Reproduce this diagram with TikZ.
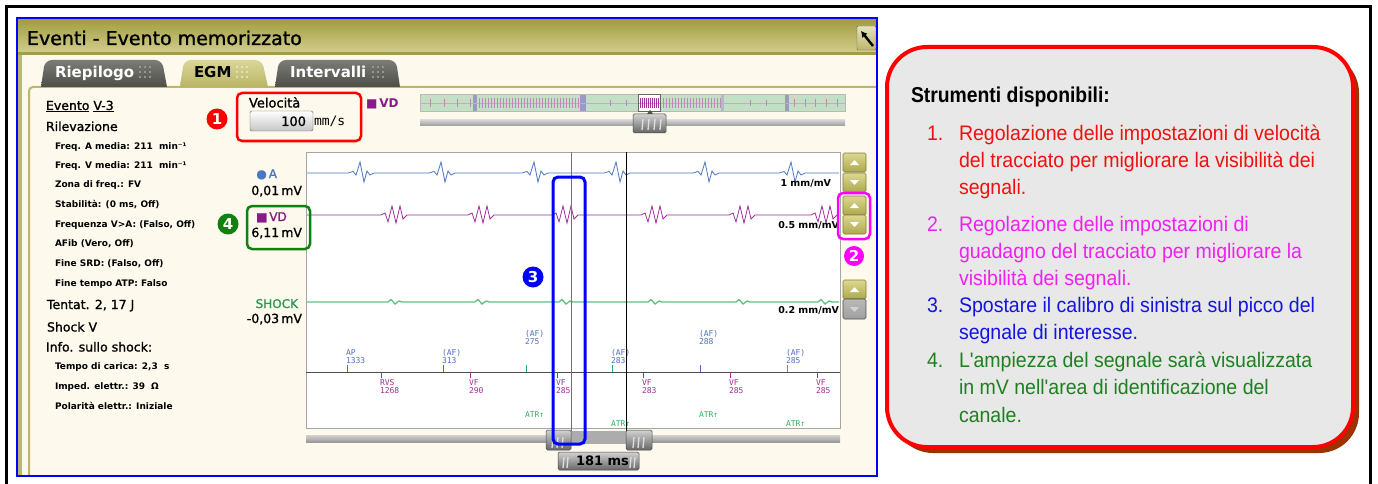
\documentclass[tikz,border=0pt]{standalone}
\usepackage{fontspec}
\setmainfont{DejaVu Sans}
\newfontfamily\ui{DejaVu Sans}
\newfontfamily\uimed[FakeBold=1.2]{DejaVu Sans}
\newfontfamily\uimono{DejaVu Sans Mono}
\newfontfamily\boxf[FakeStretch=0.93,Ligatures=ResetAll]{Liberation Sans}
\newfontfamily\headf[FakeStretch=0.9]{Liberation Sans}
\usetikzlibrary{arrows.meta}
\definecolor{cream}{HTML}{FDF9EC}
\definecolor{olive}{HTML}{BDB769}
\definecolor{olivedark}{HTML}{A39E42}
\definecolor{olivelight}{HTML}{D2CE8E}
\definecolor{tabdark}{HTML}{4E4E48}
\definecolor{tabtop}{HTML}{7C7C76}
\definecolor{egmtop}{HTML}{DAD69A}
\definecolor{egmbot}{HTML}{B9B563}
\definecolor{atr}{HTML}{4A78C0}
\definecolor{vdc}{HTML}{A0309A}
\definecolor{vdtext}{HTML}{8A1A8A}
\definecolor{shk}{HTML}{60C080}
\definecolor{annb}{HTML}{5070C0}
\definecolor{annp}{HTML}{A03090}
\definecolor{anng}{HTML}{30B060}
\definecolor{redc}{HTML}{FF0000}
\definecolor{magc}{HTML}{FF00FF}
\definecolor{bluec}{HTML}{0000FF}
\definecolor{greenc}{HTML}{108010}
\definecolor{itemred}{HTML}{F01010}
\definecolor{itemmag}{HTML}{F020F0}
\definecolor{itemblue}{HTML}{1414E0}
\definecolor{itemgreen}{HTML}{1E8020}
\definecolor{btntop}{HTML}{DCD890}
\definecolor{btnbot}{HTML}{ADA94E}
\definecolor{btnb}{HTML}{7E7A40}
\definecolor{shadowc}{HTML}{993300}
\definecolor{boxfill}{HTML}{E8E8E8}
\definecolor{ovgreen}{HTML}{C4E0C4}
\definecolor{ovbar}{HTML}{9A9AC4}
\tikzset{
  lbl/.style={anchor=base west, inner sep=0pt, outer sep=0pt},
  lblr/.style={anchor=base east, inner sep=0pt, outer sep=0pt},
  lblbig/.style={lbl, font=\uimed\fontsize{12.5}{15}\selectfont},
  lblsmall/.style={lbl, font=\ui\bfseries\fontsize{9}{11}\selectfont},
  chlbl/.style={lblr, font=\uimed\fontsize{12.5}{14}\selectfont},
  scalelbl/.style={lblr, font=\ui\bfseries\fontsize{9.5}{11}\selectfont},
  annlbl/.style={lbl, font=\uimono\fontsize{8}{9}\selectfont},
  numcirc/.style={circle, fill=#1, text=white, font=\ui\bfseries\fontsize{15}{15}\selectfont, inner sep=0pt, minimum size=21pt},
  hlbox/.style={draw=#1, line width=2.5pt, rounded corners=5pt},
  ubtn/.style={top color=btntop, bottom color=btnbot, draw=btnb, line width=0.6pt, rounded corners=1.5pt},
  thumbst/.style={top color=gray!35, bottom color=gray!80!black, draw=gray!55!black, line width=0.5pt, rounded corners=1.5pt},
  ridge/.style={white!75!gray, line width=1.3pt},
  boxline/.style={lbl, font=\boxf\fontsize{21}{27}\selectfont},
}
\begin{document}
\begin{tikzpicture}[x=1pt,y=-1pt]
\useasboundingbox (0,0) rectangle (1378,484);
\fill[white] (0,0) rectangle (1378,484);
% outer frame
\draw[line width=3pt] (6.5,6.5) rectangle (1370,520);
% window
\fill[cream] (17,18) rectangle (877,476);
\shade[top color=olivedark, bottom color=olivelight] (18,20) rectangle (876,53);
\fill[olivedark] (18,52) rectangle (876,55);
\fill[olive] (18,55) rectangle (22,476);
\draw[olive, line width=2pt, rounded corners=4pt] (29,476) -- (29,87) -- (876,87);
% close button
\shadedraw[top color=olivelight!60!white, bottom color=olive, draw=gray!70!black, rounded corners=1pt] (857,26) rectangle (876,50);
\draw[line width=2.4pt, -{Latex[length=6pt,width=7pt]}] (873,46) -- (861,31);
\draw[bluec, line width=2pt] (17,18) rectangle (877,476);
\node[lbl, font=\uimed\fontsize{19}{21}\selectfont] (title) at (27,45) {Eventi - Evento memorizzato};
% tabs
\shade[top color=tabtop, bottom color=tabdark] (41,87) [rounded corners=7pt] -- (45,60) -- (162,60) [sharp corners] -- (167,87) -- cycle;
\shade[top color=egmtop, bottom color=egmbot] (180,87) [rounded corners=7pt] -- (184,60) -- (262,60) [sharp corners] -- (268,87) -- cycle;
\shade[top color=tabtop, bottom color=tabdark] (275,87) [rounded corners=7pt] -- (279,60) -- (396,60) [sharp corners] -- (400,87) -- cycle;
\node[lbl, font=\ui\bfseries\fontsize{15}{17}\selectfont, text=white] (tab1) at (55,78) {Riepilogo};
\node[lbl, font=\ui\bfseries\fontsize{15}{17}\selectfont] (tab2) at (194,78) {EGM};
\node[lbl, font=\ui\bfseries\fontsize{15}{17}\selectfont, text=white] (tab3) at (290,78) {Intervalli};
\foreach \gx/\gc in {140/gray!70, 237/white!70!olive, 373/gray!70}
  \foreach \i in {0,1,2} \foreach \j in {0,1,2}
    \fill[\gc] (\gx+\i*5,67+\j*5) circle (1.1pt);
% left column
\node[lblbig] (ev) at (46,110) {\underline{Evento} \underline{V-3}};
\node[lblbig] (ril) at (46,131) {Rilevazione};
\node[lblsmall] (fa) at (55,149.5) {Freq. A media: 211\hspace{3pt} min⁻¹};
\node[lblsmall] (fv) at (55,168) {Freq. V media: 211\hspace{3pt} min⁻¹};
\node[lblsmall] (zona) at (55,187.5) {Zona di freq.: FV};
\node[lblsmall] (stab) at (55,207) {Stabilità: (0 ms, Off)};
\node[lblsmall] (fva) at (55,227) {Frequenza V>A: (Falso, Off)};
\node[lblsmall] (afib) at (55,246.5) {AFib (Vero, Off)};
\node[lblsmall] (srd) at (55,266.5) {Fine SRD: (Falso, Off)};
\node[lblsmall] (atp) at (55,286.5) {Fine tempo ATP: Falso};
\node[lblbig] (tent) at (47,309) {Tentat. 2, 17 J};
\node[lblbig] (shv) at (47,331.5) {Shock V};
\node[lblbig] (info) at (46,351.5) {Info. sullo shock:};
\node[lblsmall] (tc) at (55,369) {Tempo di carica: 2,3\hspace{3pt} s};
\node[lblsmall] (imp) at (55,389) {Imped. elettr.: 39\hspace{3pt} Ω};
\node[lblsmall] (pol) at (55,409) {Polarità elettr.: Iniziale};
% velocity control
\node[lbl, font=\uimed\fontsize{13}{15}\selectfont] (vel) at (249,107.5) {Velocità};
\shadedraw[top color=white, bottom color=gray!45, draw=gray!70!black, rounded corners=2pt] (250,111) rectangle (313,131);
\node[lblr, font=\uimed\fontsize{13}{15}\selectfont] (v100) at (306,126) {100};
\node[lbl, font=\uimono\fontsize{13}{15}\selectfont] (mms) at (314,126) {mm/s};
\draw[hlbox=redc] (237,93) rectangle (361,141);
\node[numcirc=redc] (c1) at (217,119) {1};
\node[lbl, font=\ui\bfseries\fontsize{12}{14}\selectfont, text=vdtext] (ovVD) at (366,108) {■\,VD};
% overview strip
\fill[ovgreen] (420,94) rectangle (845,111);
\fill[ovbar] (473,94) rectangle (477,111);
\fill[ovbar] (580,94) rectangle (586,111);
\fill[ovbar!50!ovgreen] (721,94) rectangle (724,111);
\fill[ovbar] (785,94) rectangle (789,111);
\fill[white] (638,94) rectangle (660,111);
\draw[vdc!45] (420,103) -- (845,103);
\foreach \x in {430,444,457,470} \draw[vdc!60] (\x,99) -- (\x,107);
\foreach \x in {479,482,...,578} \draw[vdc!60] (\x,98) -- (\x,108);
\foreach \x in {610,626} \draw[vdc!60] (\x,100) -- (\x,106);
\foreach \x in {640,642,...,658} \draw[vdc, line width=0.8pt] (\x,98) -- (\x,108);
\foreach \x in {663,666,...,720} \draw[vdc!60] (\x,98) -- (\x,108);
\foreach \x in {750,766} \draw[vdc!60] (\x,100) -- (\x,106);
\foreach \x in {794,805,815,826,837} \draw[vdc!60] (\x,99) -- (\x,107);
\draw[gray!55] (420,94) rectangle (845,111);
\draw[black!60] (638,94) rectangle (660,111);
\shade[top color=gray!35, bottom color=gray!80] (420,120) rectangle (845,126);
\shadedraw[thumbst] (633,114) rectangle (666,133);
\fill[gray!60!black] (647,114) -- (653,114) -- (650,110) -- cycle;
\foreach \x in {643,649,655,661} \draw[ridge] (\x,119) -- (\x-1,130);
% chart
\draw[gray!70, fill=white] (306,152) rectangle (840,428);
\draw[atr, line width=0.8pt] (307,173) foreach \x in {362,443,536,618,707,793} { -- (\x-14,173) -- (\x-9,171.5) -- (\x-6,175) -- (\x-2,162) -- (\x+2,182) -- (\x+5,171) -- (\x+8,175) -- (\x+12,173) } -- (839,173);
\draw[vdc, line width=0.8pt] (307,215) foreach \x in {395,482,566,655,743,825} { -- (\x-14,215) -- (\x-10,213) -- (\x-7,222) -- (\x-3,206) -- (\x+1,223) -- (\x+5,206) -- (\x+8,219) -- (\x+12,215) } -- (839,215);
\draw[shk, line width=1.3pt] (307,302) foreach \x in {395,482,566,655,743,825} { -- (\x-7,302) -- (\x-4,299.5) -- (\x,304) -- (\x+4,301) -- (\x+7,302) } -- (839,302);
\draw[black!70] (306,372) -- (840,372);
% calipers
\draw[black!55, line width=0.9pt] (571,152) -- (571,432);
\draw[black, line width=0.8pt] (626,152) -- (626,432);
% channel labels
\node[lblr, font=\uimed\fontsize{12}{14}\selectfont, text=atr] (chA) at (277,178) {●\,A};
\node[chlbl] (mvA) at (302,195) {0,01\,mV};
\node[lbl, font=\uimed\fontsize{12}{14}\selectfont, text=vdtext] (chVD) at (256,221) {■\,VD};
\node[chlbl] (mvVD) at (302,237) {6,11\,mV};
\node[lblr, font=\uimed\fontsize{12}{14}\selectfont, text=anng!85!black] (chS) at (298,308) {SHOCK};
\node[chlbl] (mvS) at (302,323) {-0,03\,mV};
\draw[hlbox=greenc] (247,206) rectangle (310,249);
\node[numcirc=greenc] (c4) at (228,224) {4};
% scale labels
\node[scalelbl] (s1) at (831,186) {1 mm/mV};
\node[scalelbl] (s2) at (839,228) {0.5 mm/mV};
\node[scalelbl] (s3) at (839,313) {0.2 mm/mV};
% gain buttons
\foreach \y/\d in {153/1, 173/-1, 196/1, 215/-1, 280/1} {
  \shadedraw[ubtn] (843,\y) rectangle (866,\y+19);
  \fill[white] (850,\y+9.5+2.5*\d) -- (859,\y+9.5+2.5*\d) -- (854.5,\y+9.5-2.5*\d) -- cycle;
}
\shadedraw[top color=gray!55, bottom color=gray!75, draw=gray!60!black, line width=0.6pt, rounded corners=1.5pt] (843,299) rectangle (866,319);
\fill[gray!35] (850,307) -- (859,307) -- (854.5,312) -- cycle;
\draw[hlbox=magc] (838,193) rectangle (870,239);
\node[numcirc=magc, minimum size=20pt] (c2) at (854,256) {2};
% annotations above axis
\foreach \x/\a/\b/\yy/\tc in {346/AP/1333/355/annb, 442/(AF)/313/355/annb, 525/(AF)/275/336/anng, 611/(AF)/283/355/anng, 699/(AF)/288/336/annb, 786/(AF)/285/355/anng} {
  \node[annlbl, text=annb] (ua\x) at (\x,\yy) {\a};
  \node[annlbl, text=annb] (ub\x) at (\x,\yy+8) {\b};
  \draw[\tc, line width=0.8pt] (\x+1,365) -- (\x+1,372);
}
% annotations below axis
\foreach \x/\a/\b in {380/RVS/1268, 469/VF/290, 556/VF/285, 642/VF/283, 729/VF/285, 816/VF/285} {
  \draw[annp, line width=0.8pt] (\x+1,372) -- (\x+1,378);
  \node[annlbl, text=annp] (la\x) at (\x,385) {\a};
  \node[annlbl, text=annp] (lb\x) at (\x,393) {\b};
}
\foreach \x/\yy in {525/417, 611/426, 699/417, 786/426}
  \node[annlbl, text=anng] (atr\x) at (\x,\yy) {ATR↑};
% bottom slider
\shade[top color=gray!35, bottom color=gray!80] (306,435) rectangle (840,442);
\fill[gray!65] (571,431) rectangle (626,444);
\shadedraw[thumbst] (546,430) rectangle (571,450);
\foreach \x in {553,558,563} \draw[ridge] (\x,437) -- (\x-1,448);
\shadedraw[thumbst] (626,430) rectangle (652,450);
\foreach \x in {634,639,644} \draw[ridge] (\x,437) -- (\x-1,448);
\shadedraw[thumbst] (558,452) rectangle (639,470);
\foreach \x in {564,568,631,635} \draw[ridge] (\x,457) -- (\x-1,468);
\node[lbl, font=\ui\bfseries\fontsize{13}{15}\selectfont] (ms) at (576,465) {181 ms};
% caliper highlight
\draw[bluec, line width=3pt, rounded corners=5pt] (553,177) rectangle (585,444);
\node[numcirc=bluec] (c3) at (533,277) {3};
% right info box
\fill[shadowc, rounded corners=40pt] (893,53) rectangle (1359,453);
\filldraw[fill=boxfill, draw=redc, line width=4pt, rounded corners=40pt] (887,47) rectangle (1353,447);
\node[lbl, font=\headf\bfseries\fontsize{21.5}{27}\selectfont] (head) at (911,103) {Strumenti disponibili:};
\node[boxline, text=itemred] (n1) at (927,140) {1.};
\node[boxline, text=itemred] (t1a) at (959,140) {Regolazione delle impostazioni di velocità};
\node[boxline, text=itemred] (t1b) at (959,167) {del tracciato per migliorare la visibilità dei};
\node[boxline, text=itemred] (t1c) at (959,194) {segnali.};
\node[boxline, text=itemmag] (n2) at (927,231) {2.};
\node[boxline, text=itemmag] (t2a) at (959,231) {Regolazione delle impostazioni di};
\node[boxline, text=itemmag] (t2b) at (959,258) {guadagno del tracciato per migliorare la};
\node[boxline, text=itemmag] (t2c) at (959,285) {visibilità dei segnali.};
\node[boxline, text=itemblue] (n3) at (927,312) {3.};
\node[boxline, text=itemblue] (t3a) at (959,312) {Spostare il calibro di sinistra sul picco del};
\node[boxline, text=itemblue] (t3b) at (959,339) {segnale di interesse.};
\node[boxline, text=itemgreen] (n4) at (927,367) {4.};
\node[boxline, text=itemgreen] (t4a) at (959,367) {L'ampiezza del segnale sarà visualizzata};
\node[boxline, text=itemgreen] (t4b) at (959,394) {in mV nell'area di identificazione del};
\node[boxline, text=itemgreen] (t4c) at (959,422) {canale.};
\end{tikzpicture}
\end{document}
